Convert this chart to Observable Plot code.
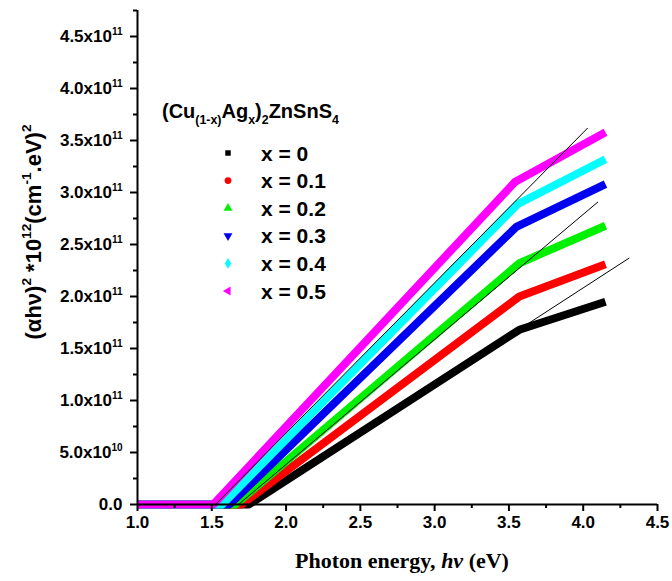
<!DOCTYPE html>
<html><head><meta charset="utf-8">
<script src="https://cdn.jsdelivr.net/npm/d3@7"></script>
<script src="https://cdn.jsdelivr.net/npm/@observablehq/plot@0.6"></script>
<style>
body{margin:0;background:#fff}
#chart svg{font-family:"Liberation Sans",Arial,sans-serif}
</style>
</head><body><div id="chart"></div>
<script>
// ---- data (values in units of 1e11 (cm^-1 eV)^2) ----
const seriesNames = ["x = 0","x = 0.1","x = 0.2","x = 0.3","x = 0.4","x = 0.5"];
const seriesColors = ["#000000","#ff0000","#00f000","#0000f0","#00ffff","#ff00ff"];
const energy_x00 = [1.00, 1.75, 3.57, 4.15];
const value_x00  = [0,    0,    1.68, 1.95];
const energy_x01 = [1.00, 1.70, 3.57, 4.15];
const value_x01  = [0,    0,    2.00, 2.31];
const energy_x02 = [1.00, 1.66, 3.57, 4.15];
const value_x02  = [0,    0,    2.32, 2.68];
const energy_x03 = [1.00, 1.62, 3.55, 4.15];
const value_x03  = [0,    0,    2.67, 3.08];
const energy_x04 = [1.00, 1.57, 3.56, 4.15];
const value_x04  = [0,    0,    2.89, 3.32];
const energy_x05 = [1.00, 1.51, 3.54, 4.15];
const value_x05  = [0,    0,    3.10, 3.58];
// linear fits (thin black lines)
const fitE1 = [1.525, 1.68, 3.63];
const fitV1 = [0,     0,    1.74];
const fitE2 = [4.03,  4.10, 4.31];
const fitV2 = [3.62,  2.91, 2.37];
// ticks
const xMajor = [1.0,1.5,2.0,2.5,3.0,3.5,4.0,4.5];
const xMinor = [1.25,1.75,2.25,2.75,3.25,3.75,4.25];
const yMajor = [0,0.5,1.0,1.5,2.0,2.5,3.0,3.5,4.0,4.5];
const yMinor = [0.25,0.75,1.25,1.75,2.25,2.75,3.25,3.75,4.25,4.75];
const yTickLabels = ["0.0","5.0x10^10","1.0x10^11","1.5x10^11","2.0x10^11","2.5x10^11","3.0x10^11","3.5x10^11","4.0x10^11","4.5x10^11"];

const energies = [energy_x00,energy_x01,energy_x02,energy_x03,energy_x04,energy_x05];
const values = [value_x00,value_x01,value_x02,value_x03,value_x04,value_x05];
const rows = [];
seriesNames.forEach((s,i)=>energies[i].forEach((e,j)=>rows.push({series:s,E:e,V:values[i][j]})));
const fits = fitE1.map((e,i)=>({x1:e,y1:fitV1[i],x2:fitE2[i],y2:fitV2[i]}));

const marks = [];
seriesNames.forEach((s,i)=>{
  marks.push(Plot.line(rows.filter(r=>r.series===s),{x:"E",y:"V",stroke:seriesColors[i],strokeWidth:8,strokeLinejoin:"round",strokeLinecap:"butt"}));
});
marks.push(Plot.link(fits,{x1:"x1",y1:"y1",x2:"x2",y2:"y2",stroke:"#000",strokeWidth:1}));
marks.push(Plot.axisX({ticks:xMajor,tickSize:7,tickPadding:4,strokeWidth:2,tickFormat:d=>d.toFixed(1),label:null}));
marks.push(Plot.axisX({ticks:xMinor,tickSize:4,strokeWidth:2,tickFormat:()=>"",label:null}));
marks.push(Plot.axisY({ticks:yMajor,tickSize:7,tickPadding:8,strokeWidth:2,tickFormat:d=>yTickLabels[yMajor.indexOf(d)],label:null}));
marks.push(Plot.axisY({ticks:yMinor,tickSize:4,strokeWidth:2,tickFormat:()=>"",label:null}));
marks.push(Plot.ruleX([1],{strokeWidth:2}));
marks.push(Plot.ruleY([0],{strokeWidth:2}));

const plot = Plot.plot({
  width:672,height:581,marginLeft:137,marginRight:15,marginTop:10,marginBottom:77,
  x:{domain:[1,4.5]}, y:{domain:[0,4.75]},
  style:{fontFamily:"Liberation Sans, Arial, sans-serif",fontSize:"17px",fontWeight:"bold",background:"white",color:"#000",overflow:"visible"},
  marks
});
document.getElementById("chart").appendChild(plot);
const svg = d3.select(plot);

// superscripts on y tick labels
svg.selectAll('g[aria-label="y-axis tick label"] text').each(function(){
  const t = d3.select(this); const s = t.text();
  if(s.includes("^")){
    const [m,e] = s.split("^");
    t.text(""); t.append("tspan").text(m);
    t.append("tspan").attr("dy",-7).style("font-size","10px").text(e);
  }
});

function rich(g, parts, base){
  let shift = 0;
  parts.forEach(p=>{
    const ts = g.append("tspan").text(p.t);
    let target = 0;
    if(p.k==="sup"){ts.style("font-size",(base*0.62)+"px"); target=-base*0.45;}
    else if(p.k==="sub"){ts.style("font-size",(base*0.62)+"px"); target=base*0.3;}
    if(target!==shift){ts.attr("dy",target-shift); shift=target;}
    if(p.style) ts.style("font-style",p.style);
    if(p.font) ts.style("font-family",p.font);
  });
}

// y axis title
const yt = svg.append("text").attr("transform","translate(41,232) rotate(-90)")
  .attr("text-anchor","middle").style("font-size","22px").style("font-weight","bold");
rich(yt,[{t:"(αhν)"},{t:"2",k:"sup"},{t:" *10"},{t:"12",k:"sup"},{t:"(cm"},{t:"-1",k:"sup"},{t:".eV)"},{t:"2",k:"sup"}],22);

// x axis title
const xt = svg.append("text").attr("x",402).attr("y",568).attr("text-anchor","middle")
  .style("font-family","Liberation Serif, Times New Roman, serif").style("font-size","22px").style("font-weight","bold");
rich(xt,[{t:"Photon energy, "},{t:"hν",style:"italic"},{t:" (eV)"}],22);

// legend title
const lt = svg.append("text").attr("x",162).attr("y",118).attr("text-anchor","start").style("font-size","20px").style("font-weight","bold");
rich(lt,[{t:"(Cu"},{t:"(1-x)",k:"sub"},{t:"Ag"},{t:"x",k:"sub"},{t:")"},{t:"2",k:"sub"},{t:"ZnSnS"},{t:"4",k:"sub"}],20);

// legend entries
const symTypes = [[d3.symbolSquare,0,30],[d3.symbolCircle,0,36],[d3.symbolTriangle,0,34],[d3.symbolTriangle,180,34],[d3.symbolDiamond,0,34],[d3.symbolTriangle,-90,34]];
const lg = svg.append("g");
seriesNames.forEach((s,i)=>{
  const y = 153 + i*27.6;
  lg.append("path").attr("d",d3.symbol(symTypes[i][0],symTypes[i][2])())
    .attr("transform",`translate(228,${y}) rotate(${symTypes[i][1]})`).attr("fill",seriesColors[i]);
  lg.append("text").attr("x",261).attr("y",y+7.5).attr("text-anchor","start").style("font-size","21px").style("font-weight","bold").text(s);
});
</script>
</body></html>
